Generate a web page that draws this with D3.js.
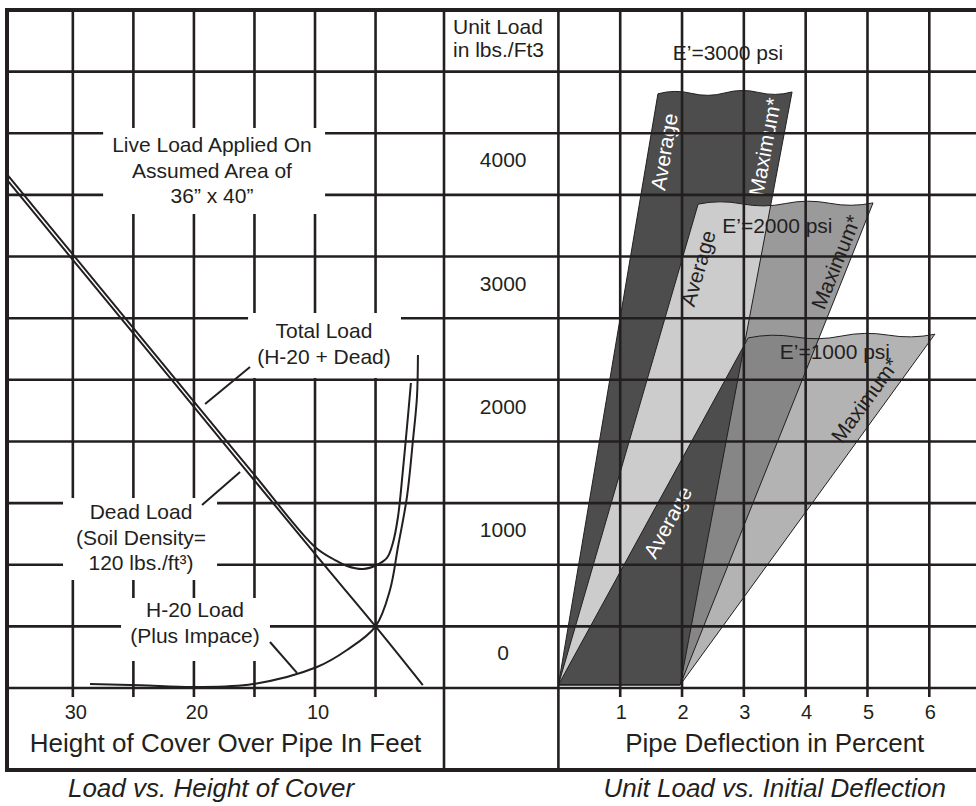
<!DOCTYPE html>
<html>
<head>
<meta charset="utf-8">
<script src="https://cdn.jsdelivr.net/npm/d3@7"></script>
<style>
  body { margin: 0; background: #fff; }
  svg { display: block; font-family: 'Liberation Sans', Arial, sans-serif; }
</style>
</head>
<body>
<div id="chart"></div>
<script>
// grid + ticks
const coverGrid = [30, 25, 20, 15, 10, 5];
const coverTicks = [30, 20, 10];
const deflGrid = [1, 2, 3, 4, 5, 6, 7];
const deflTicks = [1, 2, 3, 4, 5, 6];
const loadGrid = [0, 500, 1000, 1500, 2000, 2500, 3000, 3500, 4000, 4500, 5000];
const loadTicks = [0, 1000, 2000, 3000, 4000];

// left panel curves (cover ft, load)
const deadCover = [35.4, 30, 20, 10, 5, 1.1];
const deadLoad = [4117, 3473, 2280, 1088, 500, 24];
const totalCover = [35.4, 30, 20, 15, 10, 8.35, 7.36, 6.04, 4.89, 4.06, 3.57, 3.15, 2.74, 2.33, 2.08];
const totalLoad = [4162, 3517, 2324, 1728, 1144, 1038, 990, 965, 998, 1055, 1176, 1387, 1768, 2198, 2474];
const h20Cover = [28.58, 24.45, 19.91, 15.12, 9.84, 7.36, 5, 3.81, 3.15, 2.41, 1.91, 1.58, 1.5];
const h20Load = [32, 22, 8, 32, 170, 308, 500, 795, 1144, 1549, 2012, 2361, 2701];

// right panel bands (deflection %, load)
const eValues = ['3000', '2000', '1000'];
const avgTopDefl = [1.61, 2.26, 3.07];
const avgTopLoad = [4820, 3925, 2840];
const maxTopDefl = [3.78, 5.09, 6.09];
const maxTopLoad = [4835, 3935, 2870];
const avgBaseDefl = 0;
const maxBaseDefl = 1.97;
const baseLoad = 25;

// notes on the left panel
const noteLines = [
    ['Live Load Applied On', 'Assumed Area of', '36” x 40”'],
    ['Total Load', '(H-20 + Dead)'],
    ['Dead Load', '(Soil Density=', '120 lbs./ft³)'],
    ['H-20 Load', '(Plus Impace)'],
];
const noteCover = [18.51, 9.26, 24.37, 19.91];
const noteLoad = [4405, 2896, 1428, 633];
const noteBoxCover = [[27.5, 9.17], [15.53, 2.9], [30.81, 18.09], [26.02, 13.72]];
const noteBoxLoad = [[4543, 3845], [3042, 2515], [1541, 876], [730, 219]];
const leaderCover = [[15.37, 19.08], [19.33, 16.19], [13.72, 11.49]];
const leaderLoad = [[2604, 2304], [1485, 1752], [373, 122]];

// band labels
const eLabelDefl = [1.85, 2.65, 3.58];
const eLabelLoad = [5150, 3750, 2725];
const avgLabelDefl = [1.71, 2.26, 1.77];
const avgLabelLoad = [4350, 3405, 1345];
const maxLabelDefl = [3.34, 4.49, 4.96];
const maxLabelLoad = [4390, 3455, 2335];
const avgLabelFill = ['#fff', '#231f20', '#fff'];
const maxLabelFill = ['#fff', '#231f20', '#231f20'];

const W = 976, H = 806;
const frame = { left: 7, top: 10, bottom: 770, divider: 444 };
const ink = '#231f20';

const coverX = d3.scaleLinear().domain([35, 0]).range([12.3, 436.1]);
const deflX = d3.scaleLinear().domain([0, 6]).range([558.4, 929.3]);
const loadY = d3.scaleLinear().domain([0, 5500]).range([688, 10]);

const svg = d3.select('#chart').append('svg')
    .attr('width', W)
    .attr('height', H);

const defs = svg.append('defs');
const bandsG = svg.append('g');
const gridG = svg.append('g');
const notesG = svg.append('g');
const curvesG = svg.append('g');
const frameG = svg.append('g');
const textG = svg.append('g');

function wavyTop(x0, y0, x1, y1, humps, amp) {
    let d = '';
    for (let i = 0; i < humps; i++) {
        const tm = (i + 0.5) / humps, tb = (i + 1) / humps;
        const cx = x0 + (x1 - x0) * tm;
        const cy = y0 + (y1 - y0) * tm + (i % 2 ? amp : -amp) * 2;
        d += `Q${cx},${cy} ${x0 + (x1 - x0) * tb},${y0 + (y1 - y0) * tb}`;
    }
    return d;
}

function bandPath(i) {
    const by = loadY(baseLoad);
    const ax = deflX(avgTopDefl[i]), ay = loadY(avgTopLoad[i]);
    const mx = deflX(maxTopDefl[i]), my = loadY(maxTopLoad[i]);
    return `M${deflX(avgBaseDefl)},${by}L${ax},${ay}` +
        wavyTop(ax, ay, mx, my, 4, 2.2) +
        `L${deflX(maxBaseDefl)},${by}Z`;
}

function edgeAngle(topDefl, topLoad, baseDefl) {
    const dx = deflX(topDefl) - deflX(baseDefl);
    const dy = loadY(topLoad) - loadY(baseLoad);
    return (Math.atan2(dy, dx) * 180) / Math.PI;
}

[0, 1].forEach((i) =>
    defs.append('clipPath').attr('id', `band-clip-${i}`)
        .append('path').attr('d', bandPath(i))
);

// band fills, shaded where they overlap
bandsG.append('path').attr('d', bandPath(0)).attr('fill', '#4d4d4d');
bandsG.append('path').attr('d', bandPath(1)).attr('fill', '#9a9a9a');
bandsG.append('path').attr('d', bandPath(1)).attr('fill', '#cccccc')
    .attr('clip-path', 'url(#band-clip-0)');
bandsG.append('path').attr('d', bandPath(2)).attr('fill', '#b3b3b3');
bandsG.append('path').attr('d', bandPath(2)).attr('fill', '#868686')
    .attr('clip-path', 'url(#band-clip-1)');
bandsG.append('g').attr('clip-path', 'url(#band-clip-0)')
    .append('path').attr('d', bandPath(2)).attr('fill', '#4d4d4d')
    .attr('clip-path', 'url(#band-clip-1)');

bandsG.selectAll('path.edge')
    .data([0, 1, 2])
    .join('path')
    .attr('class', 'edge')
    .attr('d', (i) => bandPath(i))
    .attr('fill', 'none')
    .attr('stroke', ink)
    .attr('stroke-width', 1);

bandsG.selectAll('text.elabel')
    .data(eValues)
    .join('text')
    .attr('class', 'elabel')
    .attr('x', (_, i) => deflX(eLabelDefl[i]))
    .attr('y', (_, i) => loadY(eLabelLoad[i]))
    .attr('dy', '0.35em')
    .attr('font-size', '21px')
    .attr('fill', ink)
    .text((d) => `E’=${d} psi`);

bandsG.selectAll('text.avg')
    .data(eValues)
    .join('text')
    .attr('class', 'avg')
    .attr('transform', (_, i) =>
        `translate(${deflX(avgLabelDefl[i])},${loadY(avgLabelLoad[i])}) rotate(${edgeAngle(avgTopDefl[i], avgTopLoad[i], avgBaseDefl)})`)
    .attr('text-anchor', 'middle')
    .attr('dy', '0.35em')
    .attr('font-size', '21px')
    .attr('fill', (_, i) => avgLabelFill[i])
    .text('Average');

bandsG.selectAll('text.max')
    .data(eValues)
    .join('text')
    .attr('class', 'max')
    .attr('transform', (_, i) =>
        `translate(${deflX(maxLabelDefl[i])},${loadY(maxLabelLoad[i])}) rotate(${edgeAngle(maxTopDefl[i], maxTopLoad[i], maxBaseDefl)})`)
    .attr('text-anchor', 'middle')
    .attr('dy', '0.35em')
    .attr('font-size', '21px')
    .attr('fill', (_, i) => maxLabelFill[i])
    .text('Maximum*');

// grid
const tickBottom = loadY(0) + 9;
gridG.selectAll('line.h')
    .data(loadGrid)
    .join('line')
    .attr('class', 'h')
    .attr('x1', frame.left)
    .attr('x2', W)
    .attr('y1', (d) => loadY(d))
    .attr('y2', (d) => loadY(d));
gridG.selectAll('line.vc')
    .data(coverGrid)
    .join('line')
    .attr('class', 'vc')
    .attr('x1', (d) => coverX(d))
    .attr('x2', (d) => coverX(d))
    .attr('y1', frame.top)
    .attr('y2', tickBottom);
gridG.selectAll('line.vd')
    .data(deflGrid)
    .join('line')
    .attr('class', 'vd')
    .attr('x1', (d) => deflX(d))
    .attr('x2', (d) => deflX(d))
    .attr('y1', frame.top)
    .attr('y2', tickBottom);
gridG.selectAll('line')
    .attr('stroke', ink)
    .attr('stroke-width', 2.6);

// white note boxes break the grid
notesG.selectAll('rect')
    .data(noteLines)
    .join('rect')
    .attr('x', (_, i) => coverX(noteBoxCover[i][0]))
    .attr('width', (_, i) => coverX(noteBoxCover[i][1]) - coverX(noteBoxCover[i][0]))
    .attr('y', (_, i) => loadY(noteBoxLoad[i][0]))
    .attr('height', (_, i) => loadY(noteBoxLoad[i][1]) - loadY(noteBoxLoad[i][0]))
    .attr('fill', '#fff');

noteLines.forEach((lines, i) => {
    notesG.append('text')
        .attr('text-anchor', 'middle')
        .attr('font-size', '21px')
        .attr('fill', ink)
        .selectAll('tspan')
        .data(lines)
        .join('tspan')
        .attr('x', coverX(noteCover[i]))
        .attr('y', (_, k) => loadY(noteLoad[i]) + k * 25.5)
        .attr('dy', '0.35em')
        .text((d) => d);
});

// curves
const line = d3.line()
    .x((d) => coverX(d[0]))
    .y((d) => loadY(d[1]))
    .curve(d3.curveCatmullRom);

const series = [
    d3.zip(deadCover, deadLoad),
    d3.zip(totalCover, totalLoad),
    d3.zip(h20Cover, h20Load),
];
curvesG.selectAll('path')
    .data(series)
    .join('path')
    .attr('d', line)
    .attr('fill', 'none')
    .attr('stroke', ink)
    .attr('stroke-width', 2);

curvesG.selectAll('line')
    .data(leaderCover)
    .join('line')
    .attr('x1', (d) => coverX(d[0]))
    .attr('x2', (d) => coverX(d[1]))
    .attr('y1', (_, i) => loadY(leaderLoad[i][0]))
    .attr('y2', (_, i) => loadY(leaderLoad[i][1]))
    .attr('stroke', ink)
    .attr('stroke-width', 2);

// frame
const frameLines = [
    [frame.left, frame.top, W, frame.top, 4],
    [frame.left, frame.bottom, W, frame.bottom, 4],
    [frame.left, frame.top - 2, frame.left, frame.bottom + 2, 4],
    [frame.divider, frame.top, frame.divider, frame.bottom, 2.6],
    [deflX(0), frame.top, deflX(0), frame.bottom, 2.6],
];
frameG.selectAll('line')
    .data(frameLines)
    .join('line')
    .attr('x1', (d) => d[0])
    .attr('y1', (d) => d[1])
    .attr('x2', (d) => d[2])
    .attr('y2', (d) => d[3])
    .attr('stroke', ink)
    .attr('stroke-width', (d) => d[4]);

// axis text
const tickY = loadY(0) + 24;
textG.selectAll('text.ct')
    .data(coverTicks)
    .join('text')
    .attr('class', 'ct')
    .attr('x', (d) => coverX(d) + 3)
    .attr('y', tickY)
    .text((d) => d);
textG.selectAll('text.dt')
    .data(deflTicks)
    .join('text')
    .attr('class', 'dt')
    .attr('x', (d) => deflX(d) + 1)
    .attr('y', tickY)
    .text((d) => d);
textG.selectAll('text.lt')
    .data(loadTicks)
    .join('text')
    .attr('class', 'lt')
    .attr('x', (frame.divider + deflX(0)) / 2 + 2)
    .attr('y', (d) => loadY(d) - 35)
    .attr('font-size', '21px')
    .text((d) => d);
textG.selectAll('text')
    .attr('text-anchor', 'middle')
    .attr('dy', '0.35em')
    .attr('fill', ink)
    .filter(function () { return !this.getAttribute('font-size'); })
    .attr('font-size', '20px');

textG.append('text')
    .attr('x', frame.divider + 9)
    .attr('font-size', '21px')
    .attr('fill', ink)
    .selectAll('tspan')
    .data(['Unit Load', 'in lbs./Ft3'])
    .join('tspan')
    .attr('x', frame.divider + 9)
    .attr('y', (_, k) => frame.top + 17 + k * 23)
    .attr('dy', '0.35em')
    .text((d) => d);

const titles = [
    ['Height of Cover Over Pipe In Feet', (frame.left + frame.divider) / 2, 743, 'normal'],
    ['Pipe Deflection in Percent', deflX(3.5), 743, 'normal'],
    ['Load vs. Height of Cover', 211, 788, 'italic'],
    ['Unit Load vs. Initial Deflection', deflX(3.5), 788, 'italic'],
];
textG.selectAll('text.title')
    .data(titles)
    .join('text')
    .attr('class', 'title')
    .attr('x', (d) => d[1])
    .attr('y', (d) => d[2])
    .attr('dy', '0.35em')
    .attr('text-anchor', 'middle')
    .attr('font-size', '26px')
    .attr('font-style', (d) => d[3])
    .attr('fill', ink)
    .text((d) => d[0]);
</script>
</body>
</html>
